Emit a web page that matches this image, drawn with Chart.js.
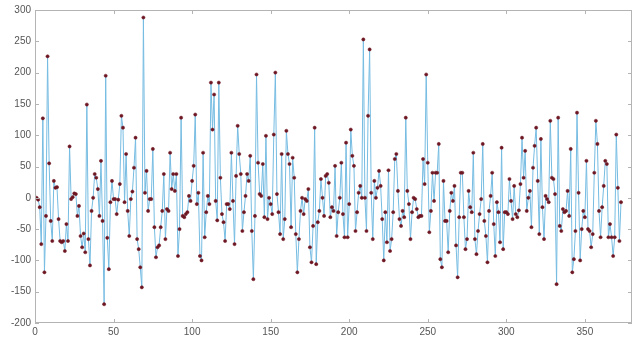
<!DOCTYPE html>
<html>
<head>
<meta charset="utf-8">
<script src="https://cdn.jsdelivr.net/npm/chart.js@4/dist/chart.umd.min.js"></script>
<style>
  html, body { margin: 0; padding: 0; background: #fff; }
  #wrap { width: 644px; height: 338px; position: relative; }
</style>
</head>
<body>
<div id="wrap"><canvas id="signalChart"></canvas></div>
<script>
// tick labels
const xTicks = [0, 50, 100, 150, 200, 250, 300, 350];
const yTicks = [-200, -150, -100, -50, 0, 50, 100, 150, 200, 250, 300];

// series values, sample 1 .. 373
const values1 = [
  0, -3, -15, -74, 127, -119, -29, 226, 55, -37,
  -69, 27, 16, 17, -34, -69, -71, -69, -85, -42,
  -69, 82, -2, 1, 7, 6, -29, -13, -61, -79,
  -57, -87, 149, -66, -108, -21, 0, 38, 32, 14,
  -29, 59, -37, -170, 195, -64, -114, -7, 27, -2,
  -2, -26, -3, 22, 131, 112, -7, 70, -21, -61,
  -2, 10, 48, 96, -66, -82, -111, -143, 288, 8,
  43, -21, -2, -2, 78, -47, -95
];
const values2 = [
  -79, -76, -47, -21, 38, -66, -18, -21, 72, 14,
  38, 11, 38, -93, -50, 128, -29, -31, -26, -23,
  3, -5, 27, 51, 133, -10, 8, -93, -100, 72,
  -63, -23, 3, -10, 184, 109, 165, -5, -36, 184,
  32, -26, -39, -69, -10, -10, -18, 72, -5, -74,
  35, 115, 70, 38, -53, -23, 3, 38, 27, 67,
  -53, -130, -29, 197, 56, 6, 3, 54, -31, 99,
  -34, 0, -10, -26, 101, 200
];
const values3 = [
  6, -23, -58, 70, -66, -34, 107, 70, 54, -47,
  64, 32, -58, -119, -66, -21, 0, -26, -2, -5,
  14, -79, -103, -45, 112, -106, -39, -21, 30, 0,
  -29, 35, 38, 24, -31, -15, -21, 51, -61, -23,
  0, 56, -26, -63, 88, -63, -10, 109, 67, 51,
  -53, -23, 8, 19, 0, 253, 0, -53, 131, 237,
  8, -66, 27, 0, 16, 43, 19, -34, -100, -23,
  -71, 44, -85, -66, -23, 62
];
const values4 = [
  70, 11, -34, -45, -21, -31, 128, 11, -10, -66,
  -23, 0, -2, -18, -31, -29, -29, 62, 22, 197,
  56, -55, -21, 40, -5, 40, 40, 86, -98, -111,
  27, -37, -37, -87, -21, 8, -5, 19, -76, -127,
  -31, 40, 40, -31, -82, -66, 11, -15, -23, 72,
  -66, -90, -53, -26, -2, 86, -37, -61, -103, -21,
  3, 40, -42, -93, -7, -23, -71, 80, -82, -23,
  -23, -26, 30, -5, -34, 19, -26
];
const values5 = [
  -31, -20, 22, 96, 32, 75, -21, 0, 11, -47,
  48, 83, 112, 27, -58, 94, -15, -66, 3, -2,
  -7, 123, 32, 30, 6, -138, 128, -45, -53, -18,
  -23, -21, 11, -29, 78, -119, -98, -53, 136, 8,
  -100, -50, -21, -31, 59, -50, -53, -79, -58, 40,
  123, 86, -21, -63, -15, 19, 59, 54, -63, -42,
  -63, -93, -63, 101, 16, -69, -7
];

const values = [...values1, ...values2, ...values3, ...values4, ...values5];
const points = values.map((v, i) => ({ x: i + 1, y: v }));

const boxColor = '#b4b4b4';
const textColor = '#555555';

// MATLAB style box with inward ticks on all four sides
const boxPlugin = {
  id: 'box',
  afterDraw(chart) {
    const { ctx, chartArea: a, scales } = chart;
    ctx.save();
    ctx.strokeStyle = boxColor;
    ctx.lineWidth = 1;
    ctx.strokeRect(a.left + 0.5, a.top + 0.5, a.right - a.left - 1, a.bottom - a.top - 1);
    ctx.beginPath();
    xTicks.forEach((t) => {
      const px = Math.round(scales.x.getPixelForValue(t)) + 0.5;
      ctx.moveTo(px, a.bottom); ctx.lineTo(px, a.bottom - 4);
      ctx.moveTo(px, a.top); ctx.lineTo(px, a.top + 4);
    });
    yTicks.forEach((t) => {
      const py = Math.round(scales.y.getPixelForValue(t)) + 0.5;
      ctx.moveTo(a.left, py); ctx.lineTo(a.left + 4, py);
      ctx.moveTo(a.right, py); ctx.lineTo(a.right - 4, py);
    });
    ctx.stroke();
    ctx.restore();
  }
};

Chart.defaults.font.family = `'Liberation Sans', Arial, sans-serif`;

new Chart('signalChart', {
  type: 'line',
  data: {
    datasets: [{
      data: points,
      borderColor: 'rgb(118,188,226)',
      borderWidth: 1,
      tension: 0,
      pointRadius: 1.6,
      pointBackgroundColor: 'rgb(110,22,34)',
      pointBorderColor: 'rgb(110,22,34)',
      pointBorderWidth: 0.5
    }]
  },
  options: {
    responsive: true,
    maintainAspectRatio: false,
    animation: false,
    layout: { padding: { top: 9, right: 12, left: 0, bottom: 0 } },
    plugins: { legend: { display: false }, tooltip: { enabled: false } },
    scales: {
      x: {
        type: 'linear',
        min: 0,
        max: 380,
        afterBuildTicks: (s) => { s.ticks = xTicks.map((v) => ({ value: v })); },
        afterFit: (s) => { s.height = 15; },
        ticks: { font: { size: 10 }, color: textColor, padding: 3, maxRotation: 0 },
        grid: { display: false, drawTicks: false },
        border: { display: false }
      },
      y: {
        min: -200,
        max: 300,
        afterBuildTicks: (s) => { s.ticks = yTicks.map((v) => ({ value: v })); },
        afterFit: (s) => { s.width = 35; },
        ticks: { font: { size: 10 }, color: textColor, padding: 4 },
        grid: { display: false, drawTicks: false },
        border: { display: false }
      }
    }
  },
  plugins: [boxPlugin]
});
</script>
</body>
</html>
